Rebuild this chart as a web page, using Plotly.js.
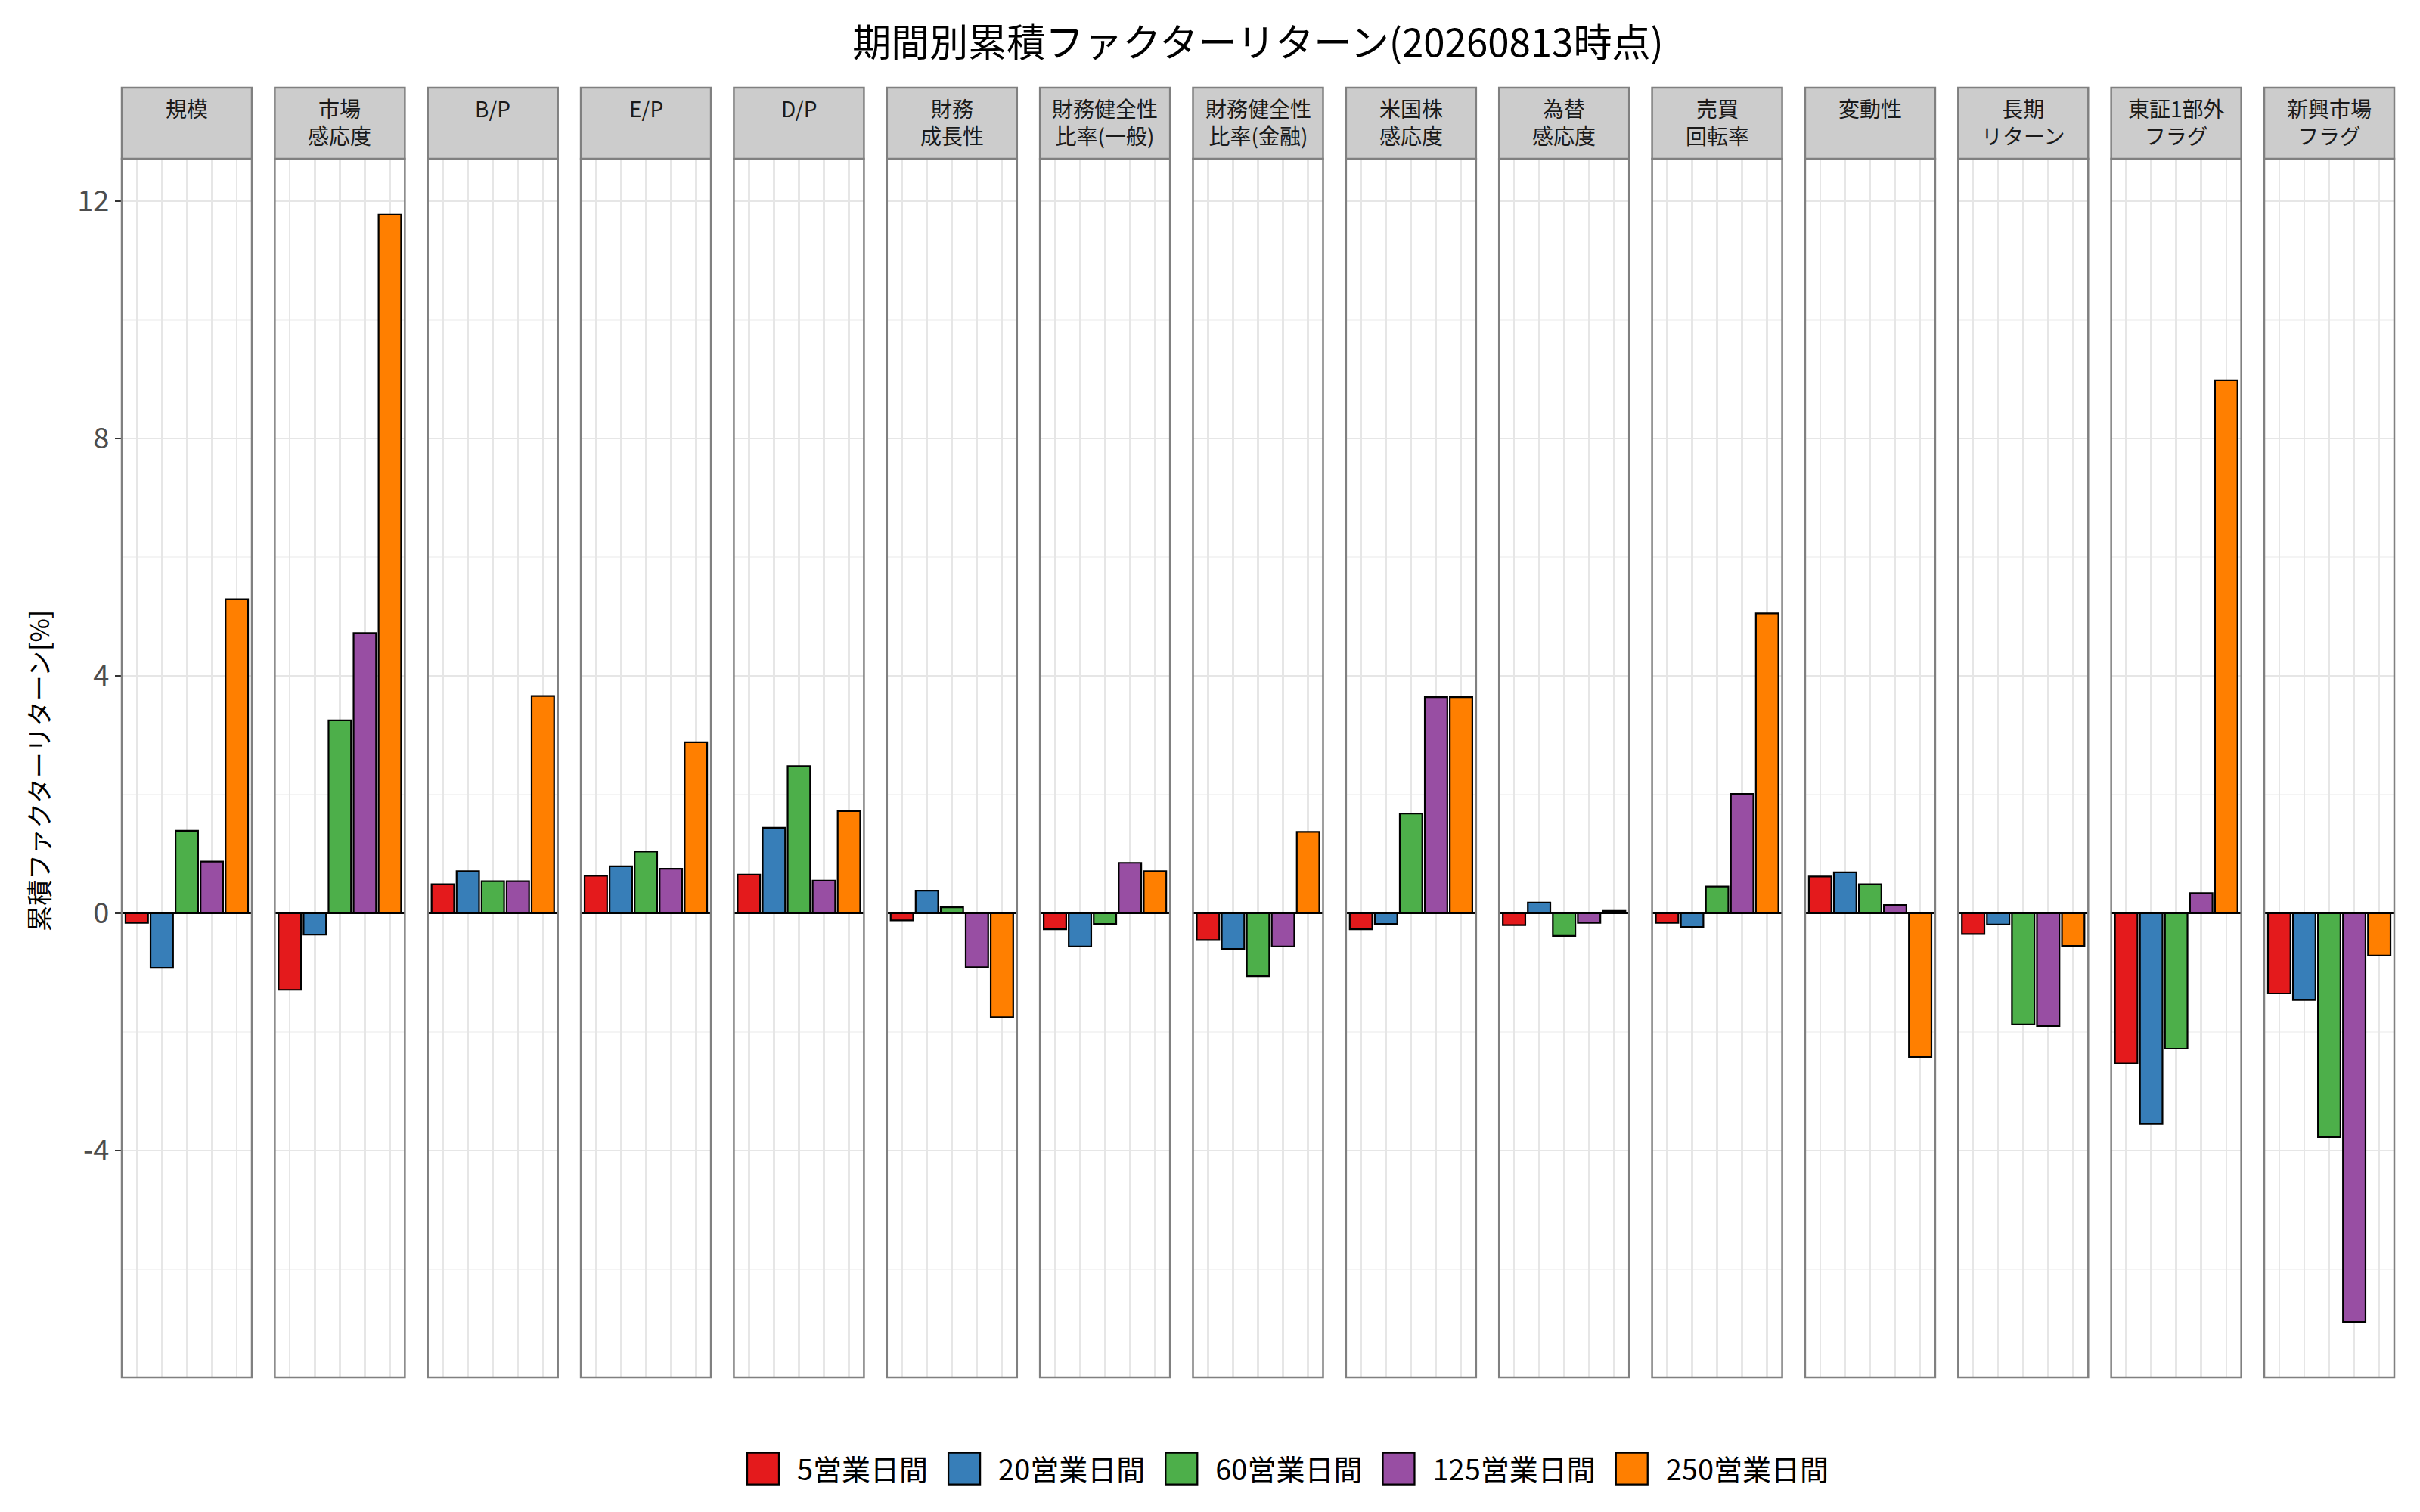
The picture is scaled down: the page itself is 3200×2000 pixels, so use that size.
<!DOCTYPE html>
<html>
<head>
<meta charset="utf-8">
<script src="https://cdn.plot.ly/plotly-3.0.1.min.js"></script>
<style>
  html, body { margin: 0; padding: 0; background: #fff; }
  #grafico { width: 3200px; height: 2000px; }
</style>
</head>
<body>
<div id="grafico"></div>
<script>
// facet labels (strip text)
var factors = ['規模', '市場<br>感応度', 'B/P', 'E/P', 'D/P', '財務<br>成長性',
  '財務健全性<br>比率(一般)', '財務健全性<br>比率(金融)', '米国株<br>感応度', '為替<br>感応度',
  '売買<br>回転率', '変動性', '長期<br>リターン', '東証1部外<br>フラグ', '新興市場<br>フラグ'];

var periods = ['5営業日間', '20営業日間', '60営業日間', '125営業日間', '250営業日間'];
var colors = ['#E41A1C', '#377EB8', '#4DAF4A', '#984EA3', '#FF7F00'];

// cumulative factor return [%] per period, one value per factor
var ret5   = [-0.16, -1.29, 0.49, 0.63, 0.65, -0.12, -0.27, -0.45, -0.27, -0.20, -0.16, 0.62, -0.35, -2.53, -1.35];
var ret20  = [-0.92, -0.36, 0.71, 0.79, 1.44, 0.38, -0.56, -0.60, -0.18, 0.18, -0.23, 0.69, -0.19, -3.55, -1.46];
var ret60  = [1.39, 3.25, 0.54, 1.04, 2.48, 0.10, -0.18, -1.06, 1.68, -0.38, 0.45, 0.49, -1.87, -2.28, -3.77];
var ret125 = [0.87, 4.72, 0.54, 0.75, 0.55, -0.91, 0.85, -0.56, 3.64, -0.16, 2.01, 0.14, -1.90, 0.34, -6.89];
var ret250 = [5.29, 11.77, 3.66, 2.88, 1.72, -1.75, 0.71, 1.37, 3.64, 0.04, 5.05, -2.42, -0.55, 8.98, -0.71];

var yTickVals = [-4, 0, 4, 8, 12];
var yTickText = ['-4', '0', '4', '8', '12'];
var yMinorVals = [-6, -2, 2, 6, 10];

var series = [ret5, ret20, ret60, ret125, ret250];

var W = 3200, H = 2000;
var mL = 161, mR = 34, mT = 210, mB = 178;
var plotW = W - mL - mR, plotH = H - mT - mB;
var panelW = 172;
var gapW = (plotW - factors.length * panelW) / (factors.length - 1);
var stripH = 94;

var font = '"Noto Sans CJK JP", "Noto Sans", sans-serif';

var data = [];
var layout = {
  width: W,
  height: H,
  margin: {l: mL, r: mR, t: mT, b: mB},
  paper_bgcolor: '#ffffff',
  plot_bgcolor: '#ffffff',
  font: {family: font, color: '#1a1a1a'},
  barmode: 'overlay',
  showlegend: true,
  title: {
    text: '期間別累積ファクターリターン(20260813時点)',
    font: {size: 51, color: '#000000', family: font},
    x: 0.5, xref: 'paper', xanchor: 'center',
    y: 1 - 57 / H, yref: 'container', yanchor: 'middle'
  },
  legend: {
    orientation: 'h',
    x: (1695 - mL) / plotW, xanchor: 'center',
    y: -121 / plotH, yanchor: 'middle',
    font: {size: 38, color: '#000000', family: font},
    itemwidth: 78,
    traceorder: 'normal'
  },
  yaxis: {
    anchor: 'x',
    range: [-7.82, 12.71],
    tickmode: 'array',
    tickvals: yTickVals,
    ticktext: yTickText,
    ticks: 'outside',
    ticklen: 8,
    tickwidth: 2.5,
    tickcolor: '#333333',
    tickfont: {size: 38, color: '#4d4d4d', family: font},
    showgrid: true,
    gridcolor: '#e6e6e6',
    gridwidth: 2.5,
    minor: {tickmode: 'array', tickvals: yMinorVals, showgrid: true, gridcolor: '#f4f4f4', gridwidth: 1.5, ticks: ''},
    zeroline: true,
    zerolinecolor: '#000000',
    zerolinewidth: 2.5,
    showline: false,
    fixedrange: true
  },
  shapes: [],
  annotations: []
};

for (var i = 0; i < factors.length; i++) {
  var axName = i === 0 ? 'xaxis' : 'xaxis' + (i + 1);
  var axRef = i === 0 ? 'x' : 'x' + (i + 1);
  var x0 = i * (panelW + gapW);
  layout[axName] = {
    domain: [x0 / plotW, (x0 + panelW) / plotW],
    anchor: 'y',
    type: 'category',
    categoryorder: 'array',
    categoryarray: periods,
    range: [-0.6, 4.6],
    showticklabels: false,
    ticks: '',
    showgrid: true,
    gridcolor: '#e6e6e6',
    gridwidth: 2.5,
    zeroline: false,
    showline: false,
    fixedrange: true
  };

  // panel border
  layout.shapes.push({
    type: 'rect', xref: axRef + ' domain', yref: 'y domain',
    x0: 0, x1: 1, y0: 0, y1: 1,
    line: {color: '#808080', width: 2.5}, fillcolor: 'rgba(0,0,0,0)', layer: 'above'
  });
  // strip
  layout.shapes.push({
    type: 'rect', xref: axRef + ' domain', yref: 'paper',
    x0: 0, x1: 1, y0: 1, y1: 1 + stripH / plotH,
    line: {color: '#808080', width: 2.5}, fillcolor: '#cccccc', layer: 'above'
  });
  layout.annotations.push({
    text: factors[i], xref: axRef + ' domain', yref: 'paper',
    x: 0.5, y: 1 + (mT - 121) / plotH, xanchor: 'center', yanchor: 'top',
    showarrow: false, align: 'center',
    font: {size: 28, color: '#1a1a1a', family: font}
  });

  for (var p = 0; p < periods.length; p++) {
    data.push({
      type: 'bar',
      x: [periods[p]],
      y: [series[p][i]],
      xaxis: axRef,
      yaxis: 'y',
      width: 0.9,
      name: periods[p],
      legendgroup: periods[p],
      showlegend: i === 0,
      marker: {color: colors[p], line: {color: '#000000', width: 2.2}},
      hoverinfo: 'skip'
    });
  }
}

// y axis title
layout.annotations.push({
  text: '累積ファクターリターン[%]', xref: 'paper', yref: 'paper',
  x: (50 - mL) / plotW, y: (H - mB - 1020) / plotH,
  xanchor: 'center', yanchor: 'middle', textangle: -90, showarrow: false,
  font: {size: 34, color: '#000000', family: font}
});

function bigKeys(gd) {
  // enlarge legend keys to ggplot-like squares, placed just left of their label
  var items = gd.querySelectorAll('.legend g.traces');
  for (var k = 0; k < items.length; k++) {
    var key = items[k].querySelector('.legendpoints path');
    var txt = items[k].querySelector('text.legendtext');
    if (!key || !txt) continue;
    key.removeAttribute('transform');
    var kr = key.getBoundingClientRect();
    var tr = txt.getBoundingClientRect();
    var cx = (kr.left + kr.right) / 2;
    var dx = (tr.left - 45) - cx;
    key.setAttribute('transform', 'translate(' + dx + ',0) scale(3.5)');
    key.style.strokeWidth = '0.65px';
  }
}

Plotly.newPlot('grafico', data, layout, {displayModeBar: false, staticPlot: true}).then(function (gd) {
  bigKeys(gd);
});
</script>
</body>
</html>
